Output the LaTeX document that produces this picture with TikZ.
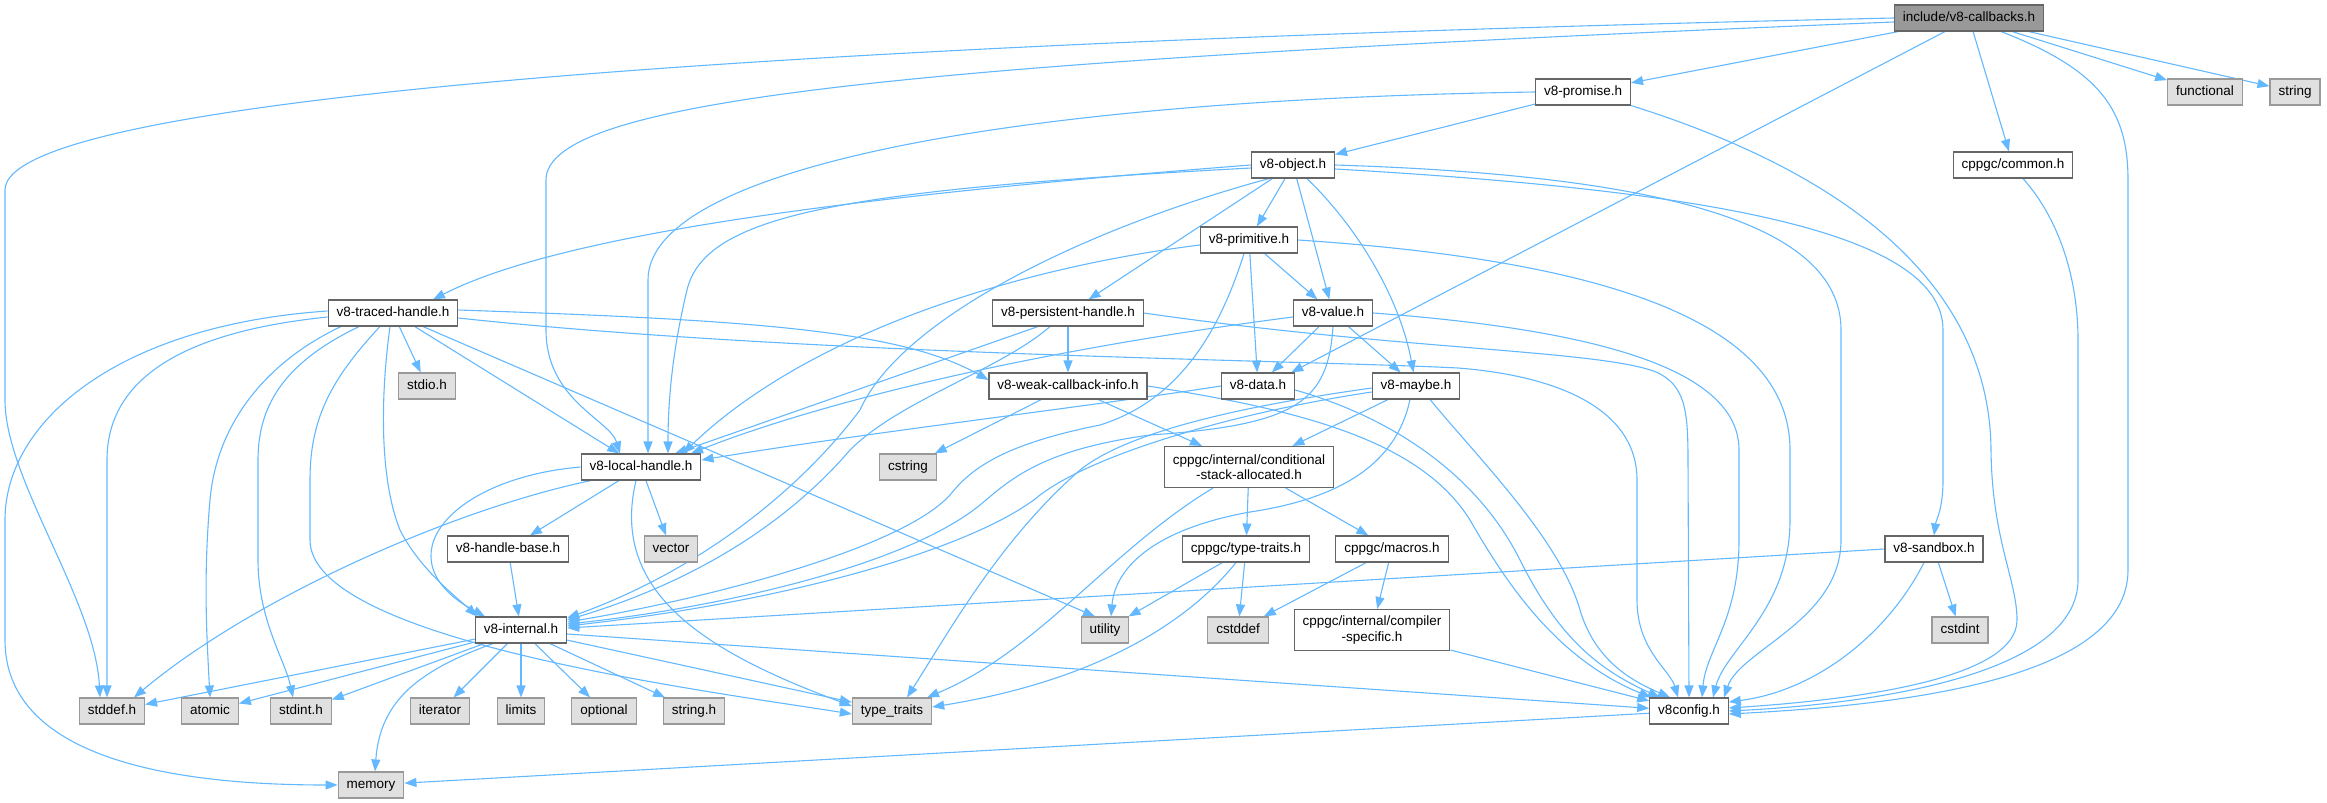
\documentclass[tikz,border=0pt]{standalone}
\usepackage{fontspec}
\setmainfont{Liberation Sans}
\usetikzlibrary{arrows.meta,backgrounds}
\definecolor{edgeblue}{HTML}{63B8FF}
\definecolor{boxgrey}{HTML}{666666}
\definecolor{sysgrey}{HTML}{999999}
\definecolor{sysfill}{HTML}{E0E0E0}
\definecolor{rootfill}{HTML}{999999}
\newcommand{\graphfont}{\fontsize{13.5}{15.5}\selectfont}
\begin{document}
\begin{tikzpicture}[x=1pt,y=-1pt,
  hdr/.style={draw=boxgrey, fill=white, line width=1.1pt, minimum height=26pt, inner xsep=8.5pt, inner ysep=0pt, text height=9.7pt, text depth=2.8pt, font=\graphfont},
  hdrtwo/.style={draw=boxgrey, fill=white, line width=1.1pt, minimum height=41pt, inner xsep=8.5pt, inner ysep=0pt, align=center, font=\graphfont},
  sys/.style={hdr, draw=sysgrey, fill=sysfill},
  root/.style={hdr, fill=rootfill},
  dep/.style={draw=edgeblue, line width=1.1pt, -{Triangle[length=12pt,width=9pt]}}]
\useasboundingbox (0,0) rectangle (2327,803);
\node [root] (cb) at (1969,18) {include/v8-callbacks.h};
\node [hdr] (promise) at (1583,92) {v8-promise.h};
\node [sys] (functional) at (2205,92) {functional};
\node [sys] (string) at (2295,92) {string};
\node [hdr] (object) at (1293,165) {v8-object.h};
\node [hdr] (common) at (2013,165) {cppgc/common.h};
\node [hdr] (primitive) at (1249,240) {v8-primitive.h};
\node [hdr] (traced) at (393,313) {v8-traced-handle.h};
\node [hdr] (persistent) at (1068,313) {v8-persistent-handle.h};
\node [hdr] (value) at (1333,313) {v8-value.h};
\node [sys] (stdio) at (427,386) {stdio.h};
\node [hdr] (weak) at (1068,386) {v8-weak-callback-info.h};
\node [hdr] (data) at (1258,386) {v8-data.h};
\node [hdr] (maybe) at (1416,386) {v8-maybe.h};
\node [hdr] (local) at (641,467) {v8-local-handle.h};
\node [sys] (cstring) at (908,467) {cstring};
\node [hdrtwo] (cond) at (1249,467) {cppgc/internal/conditional\\-stack-allocated.h};
\node [hdr] (handlebase) at (508,549) {v8-handle-base.h};
\node [sys] (vector) at (671,549) {vector};
\node [hdr] (typetraits) at (1246,549) {cppgc/type-traits.h};
\node [hdr] (macros) at (1392,549) {cppgc/macros.h};
\node [hdr] (sandbox) at (1934,549) {v8-sandbox.h};
\node [hdr] (internal) at (521,630) {v8-internal.h};
\node [sys] (utility) at (1105,630) {utility};
\node [sys] (cstddef) at (1238,630) {cstddef};
\node [hdrtwo] (compiler) at (1372,630) {cppgc/internal/compiler\\-specific.h};
\node [sys] (cstdint) at (1960,630) {cstdint};
\node [sys] (stddef) at (112,711) {stddef.h};
\node [sys] (atomic) at (210,711) {atomic};
\node [sys] (stdint) at (301,711) {stdint.h};
\node [sys] (iterator) at (440,711) {iterator};
\node [sys] (limits) at (521,711) {limits};
\node [sys] (optional) at (604,711) {optional};
\node [sys] (stringh) at (694,711) {string.h};
\node [sys] (stdtraits) at (892,711) {type\_traits};
\node [hdr] (v8config) at (1689,711) {v8config.h};
\node [sys] (memory) at (371,785) {memory};
\begin{scope}[on background layer]
\draw [dep] (cb.west) .. controls (900,40) and (5,90) .. (5,190) -- (5,400) .. controls (5,480) and (95,600) .. ([xshift=-12pt]stddef.north);
\draw [dep] ([yshift=-4pt]cb.west) .. controls (900,62) and (546,100) .. (546,180) -- (546,330) .. controls (546,400) and (610,420) .. ([xshift=-21pt]local.north);
\draw [dep] (cb) -- (promise);
\draw [dep] ([xshift=-24pt]cb.south) -- ([xshift=-4pt]data.north east);
\draw [dep] (cb) -- (common);
\draw [dep] ([xshift=32pt]cb.south) .. controls (2100,70) and (2128,110) .. (2128,180) -- (2128,570) .. controls (2128,680) and (1900,705) .. ([yshift=-3pt]v8config.east);
\draw [dep] (cb) -- (functional);
\draw [dep] (cb) -- (string);
\draw [dep] (promise.west) .. controls (1000,100) and (648,170) .. (648,280) -- ([xshift=7pt]local.north);
\draw [dep] (promise) -- (object);
\draw [dep] (promise.south east) .. controls (1900,190) and (1990,320) .. (1991,450) .. controls (1992,540) and (2017,580) .. (2017,620) .. controls (2017,680) and (1850,700) .. ([yshift=3pt]v8config.east);
\draw [dep] (object.west) .. controls (800,200) and (550,240) .. ([xshift=40pt]traced.north);
\draw [dep] ([yshift=-3pt]object.west) .. controls (840,190) and (705,215) .. (687,290) .. controls (675,340) and (668,390) .. ([xshift=27pt]local.north);
\draw [dep] ([xshift=-24pt]object.south) .. controls (1080,230) and (900,320) .. (860,410) .. controls (800,490) and (700,570) .. ([yshift=12pt]internal.east);
\draw [dep] (object) -- (persistent);
\draw [dep] (object) -- (primitive);
\draw [dep] (object) -- (value);
\draw [dep] (object) .. controls (1360,230) and (1400,300) .. (maybe);
\draw [dep] (object.east) .. controls (1650,175) and (1841,220) .. (1841,330) -- (1841,540) .. controls (1841,620) and (1740,650) .. ([xshift=35pt]v8config.north);
\draw [dep] ([yshift=-4pt]object.east) .. controls (1700,190) and (1943,230) .. (1943,330) -- (1943,480) .. controls (1943,510) and (1936,520) .. (sandbox.north);
\draw [dep] ([yshift=-5pt]primitive.west) .. controls (1000,270) and (800,340) .. ([xshift=42pt]local.north);
\draw [dep] (primitive) -- (value);
\draw [dep] (primitive) -- (data);
\draw [dep] ([xshift=-5pt]primitive.south) .. controls (1220,330) and (1180,400) .. (1100,425) .. controls (1000,445) and (970,470) .. (950,495) .. controls (900,550) and (700,600) .. ([yshift=8pt]internal.east);
\draw [dep] (primitive.east) .. controls (1600,260) and (1790,320) .. (1790,450) -- (1790,520) .. controls (1790,610) and (1725,650) .. ([xshift=24pt]v8config.north);
\draw [dep] (value) -- (data);
\draw [dep] (value) -- (maybe);
\draw [dep] ([yshift=-4pt]value.west) .. controls (1000,355) and (800,410) .. ([xshift=50pt]local.north);
\draw [dep] (value.south) .. controls (1328,400) and (1300,425) .. (1150,435) .. controls (1040,450) and (1010,480) .. (980,505) .. controls (900,570) and (700,610) .. ([yshift=6pt]internal.east);
\draw [dep] (value.east) .. controls (1600,330) and (1739,370) .. (1739,450) -- (1739,540) .. controls (1739,620) and (1706,650) .. ([xshift=13pt]v8config.north);
\draw [dep] ([xshift=-30pt]persistent.south) -- ([xshift=34pt]local.north);
\draw [dep] ([xshift=-18pt]persistent.south) .. controls (1000,370) and (900,400) .. (850,450) .. controls (790,520) and (700,580) .. ([yshift=10pt]internal.east);
\draw [dep] (persistent) -- (weak);
\draw [dep] (persistent.east) .. controls (1400,350) and (1600,350) .. (1656,372) .. controls (1685,385) and (1688,410) .. (1688,460) -- (v8config.north);
\draw [dep] (weak) -- (cstring);
\draw [dep] (weak) -- (cond);
\draw [dep] (weak.east) .. controls (1300,410) and (1420,440) .. (1470,520) .. controls (1510,590) and (1560,660) .. ([xshift=-38pt]v8config.north);
\draw [dep] (data.west) .. controls (1100,405) and (850,435) .. ([yshift=7pt]local.east);
\draw [dep] ([yshift=-4pt]data.east) .. controls (1400,420) and (1480,480) .. (1520,560) .. controls (1560,640) and (1600,670) .. ([xshift=-29pt]v8config.north);
\draw [dep] ([yshift=-6pt]maybe.west) .. controls (1250,410) and (1100,450) .. (1040,495) .. controls (980,545) and (800,600) .. ([yshift=4pt]internal.east);
\draw [dep] ([yshift=-2pt]maybe.west) .. controls (1250,405) and (1130,430) .. (1080,470) .. controls (1000,540) and (950,630) .. ([xshift=15pt]stdtraits.north);
\draw [dep] (maybe) -- (cond);
\draw [dep] ([xshift=-6pt]maybe.south) .. controls (1395,470) and (1330,500) .. (1250,512) .. controls (1150,530) and (1115,570) .. ([xshift=6pt]utility.north);
\draw [dep] ([xshift=14pt]maybe.south) .. controls (1480,460) and (1560,540) .. (1580,610) .. controls (1595,660) and (1630,680) .. ([xshift=-19pt]v8config.north);
\draw [dep] (local) -- (handlebase);
\draw [dep] (local) -- (vector);
\draw [dep] (local.west) .. controls (450,478) and (380,560) .. ([xshift=-36pt]internal.north);
\draw [dep] ([xshift=-50pt]local.south) .. controls (450,510) and (250,600) .. ([xshift=22pt]stddef.north);
\draw [dep] ([xshift=-5pt]local.south) .. controls (610,590) and (700,650) .. ([yshift=5pt]stdtraits.west);
\draw [dep] (handlebase) -- (internal);
\draw [dep] (internal) -- (stddef);
\draw [dep] (internal) -- (atomic);
\draw [dep] (internal) -- (stdint);
\draw [dep] ([xshift=-28pt]internal.south) .. controls (420,670) and (380,700) .. ([xshift=4pt]memory.north);
\draw [dep] (internal) -- (iterator);
\draw [dep] (internal) -- (limits);
\draw [dep] (internal) -- (optional);
\draw [dep] (internal) -- (stringh);
\draw [dep] (internal) -- (stdtraits);
\draw [dep] ([yshift=-4pt]internal.east) -- (v8config);
\draw [dep] ([yshift=-4pt]traced.west) .. controls (200,330) and (107,370) .. (107,460) -- ([xshift=-5pt]stddef.north);
\draw [dep] ([yshift=2pt]traced.west) .. controls (120,325) and (5,420) .. (5,520) -- (5,640) .. controls (5,750) and (150,785) .. (memory.west);
\draw [dep] ([xshift=-52pt]traced.south) .. controls (270,360) and (217,420) .. (210,500) .. controls (203,580) and (207,640) .. (atomic.north);
\draw [dep] ([xshift=-34pt]traced.south) .. controls (290,360) and (258,400) .. (258,460) -- (258,560) .. controls (258,620) and (285,660) .. ([xshift=-8pt]stdint.north);
\draw [dep] ([xshift=-13pt]traced.south) .. controls (330,380) and (310,420) .. (310,480) -- (310,540) .. controls (310,640) and (700,690) .. ([yshift=-3pt]stdtraits.west);
\draw [dep] ([xshift=-3pt]traced.south) .. controls (380,400) and (380,480) .. (400,530) .. controls (420,570) and (460,600) .. ([xshift=-44pt]internal.north);
\draw [dep] (traced) -- (stdio);
\draw [dep] (traced) -- (local);
\draw [dep] ([xshift=30pt]traced.south) -- ([xshift=-10pt]utility.north);
\draw [dep] ([yshift=3pt]traced.east) .. controls (750,320) and (900,330) .. ([yshift=6pt]weak.west);
\draw [dep] ([yshift=-5pt]traced.east) .. controls (800,355) and (1300,360) .. (1458,368) .. controls (1560,376) and (1637,410) .. (1637,480) -- (1637,600) .. controls (1637,650) and (1670,670) .. ([xshift=-11pt]v8config.north);
\draw [dep] (sandbox.west) -- ([yshift=2pt]internal.east);
\draw [dep] (sandbox) -- (cstdint);
\draw [dep] ([xshift=-10pt]sandbox.south) .. controls (1890,630) and (1820,690) .. ([yshift=9pt]v8config.east);
\draw [dep] ([xshift=10pt]common.south) .. controls (2060,220) and (2078,280) .. (2078,340) -- (2078,580) .. controls (2078,680) and (1850,705) .. (v8config.east);
\draw [dep] (cond) -- (typetraits);
\draw [dep] (cond) -- (macros);
\draw [dep] ([xshift=-36pt]cond.south) .. controls (1110,550) and (1040,650) .. ([xshift=35pt]stdtraits.north);
\draw [dep] (typetraits) -- (utility);
\draw [dep] (typetraits) -- (cstddef);
\draw [dep] ([xshift=-10pt]typetraits.south) .. controls (1190,620) and (1100,680) .. ([yshift=4pt]stdtraits.east);
\draw [dep] (macros) -- (cstddef);
\draw [dep] (macros) -- (compiler);
\draw [dep] (compiler) -- (v8config);
\draw [dep] (v8config) -- (memory);
\end{scope}
\end{tikzpicture}
\end{document}
